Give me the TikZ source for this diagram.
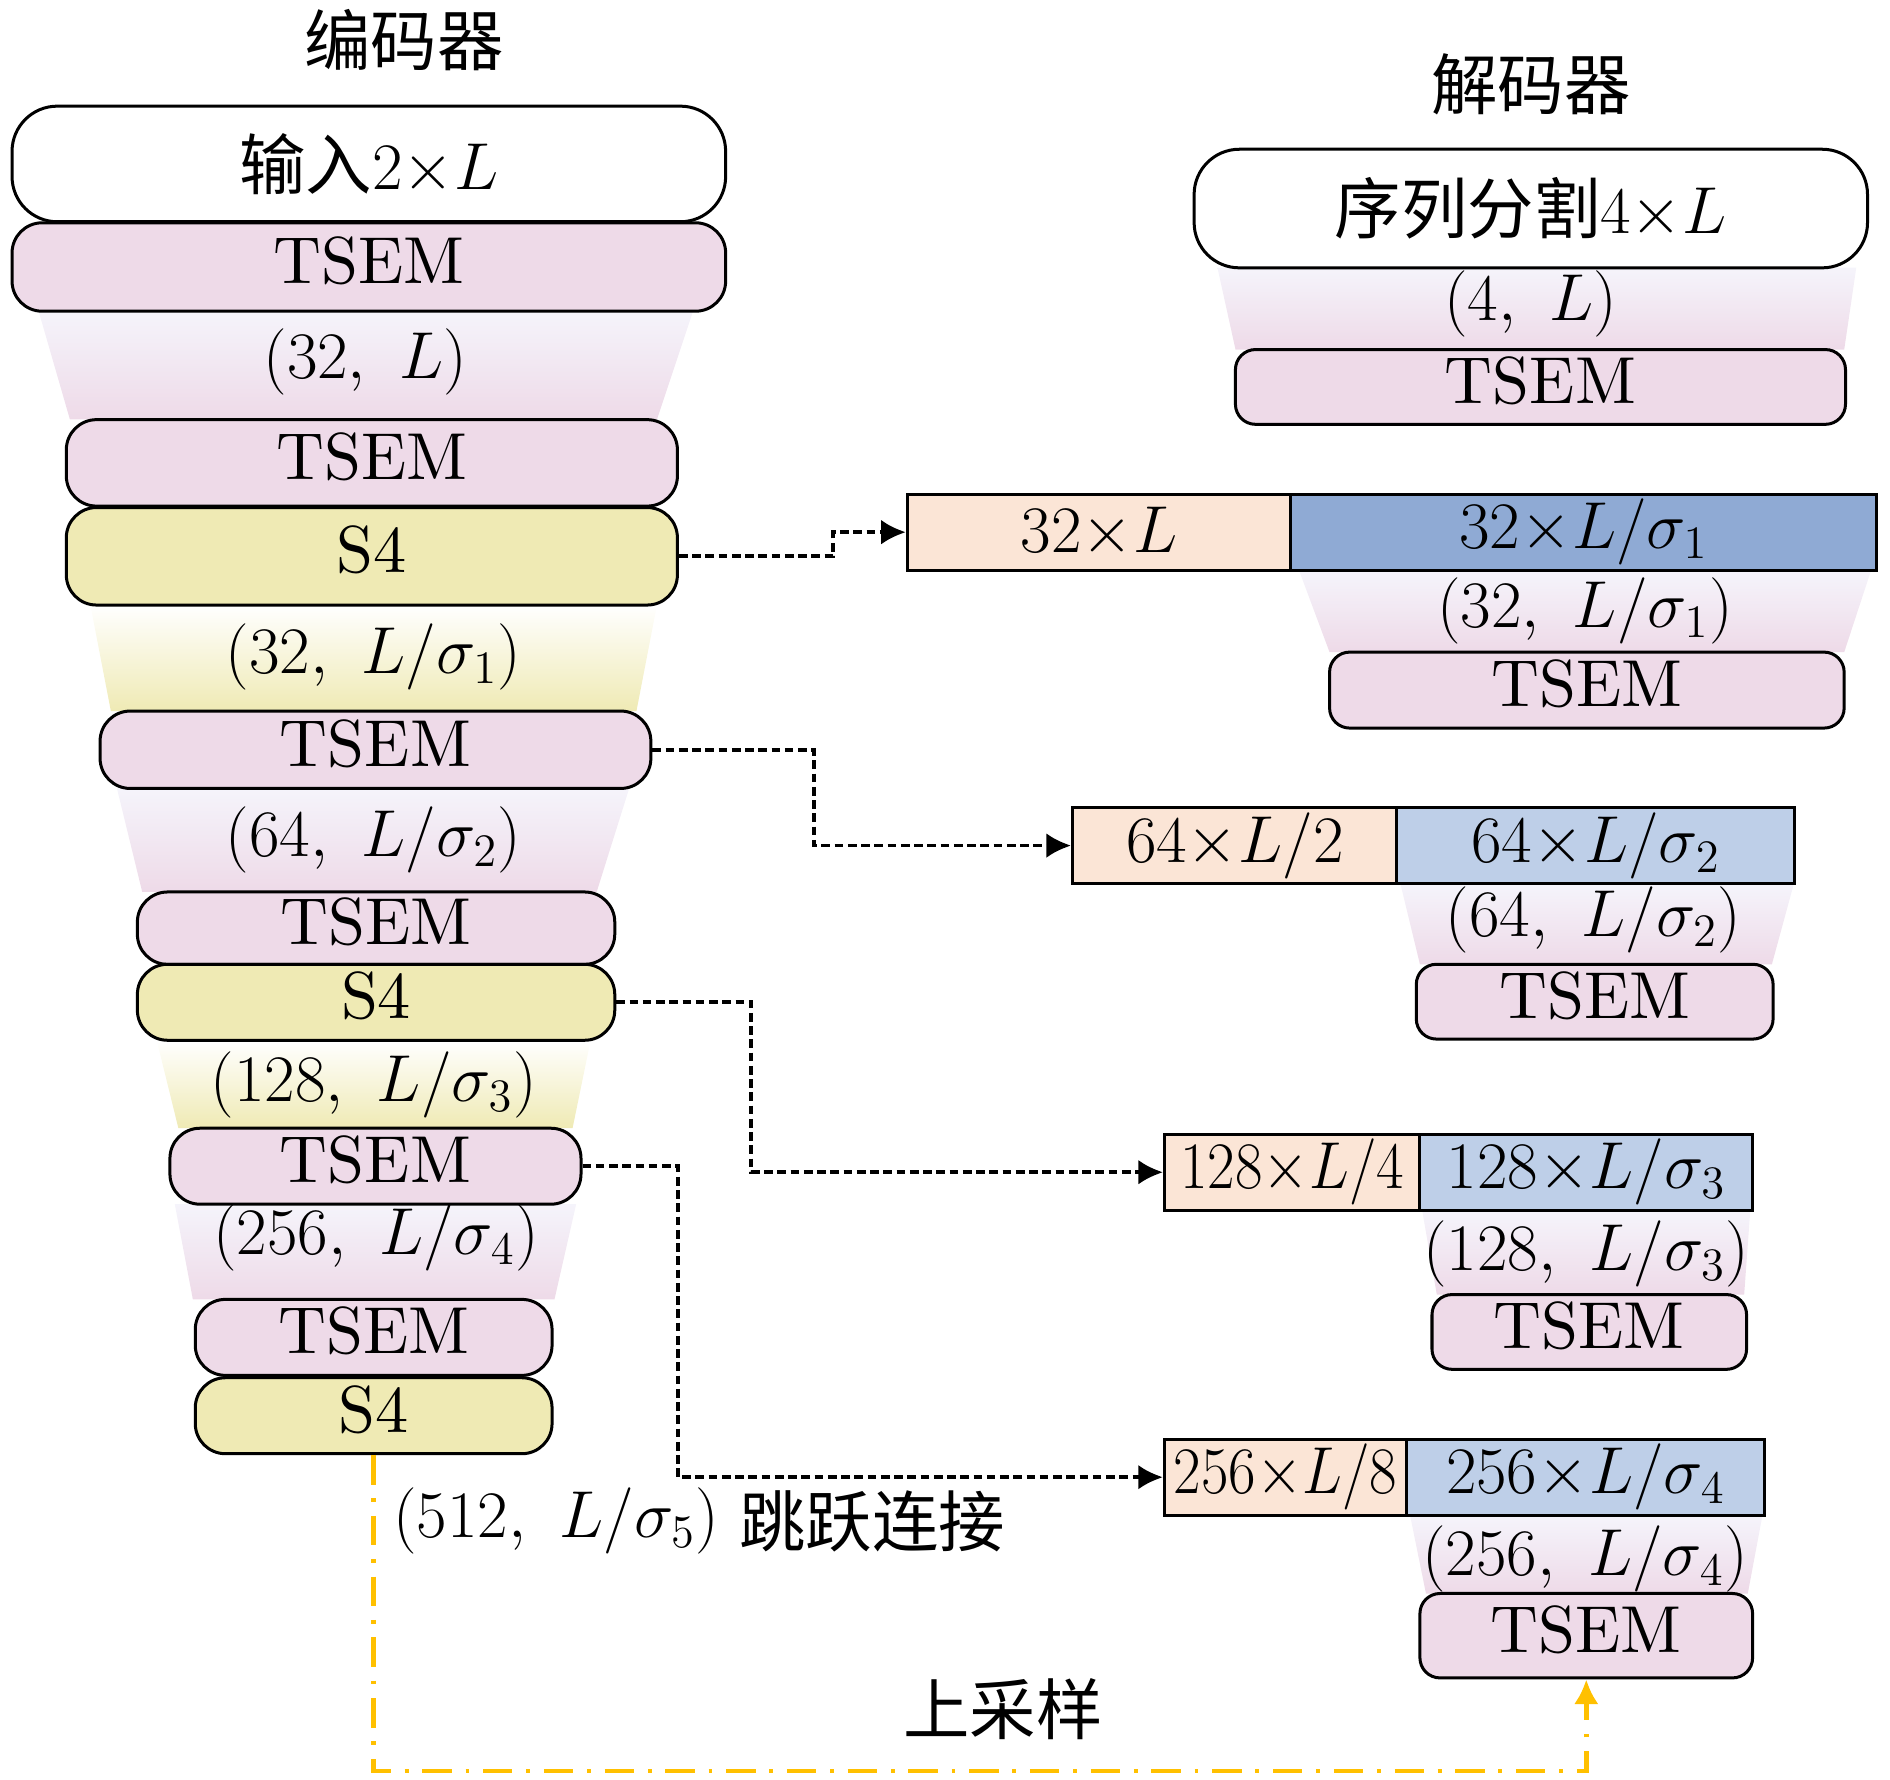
\documentclass[tikz,border=0pt]{standalone}
\usepackage{fix-cm}
\usepackage{fontspec}
\setmainfont{lmroman10-regular.otf}[ItalicFont=lmroman10-italic.otf, BoldFont=lmroman10-bold.otf]
\newfontfamily\cjk{Noto Sans CJK SC}
\usetikzlibrary{arrows.meta,backgrounds}

\definecolor{tsempink}{RGB}{238,218,232}
\definecolor{sfouryel}{RGB}{239,234,180}
\definecolor{catorange}{RGB}{251,229,214}
\definecolor{deepblue}{RGB}{143,170,212}
\definecolor{paleblue}{RGB}{190,207,232}
\definecolor{lavtop}{RGB}{245,244,251}
\definecolor{upyellow}{RGB}{255,192,0}

\begin{document}
\begin{tikzpicture}[x=0.012cm, y=-0.012cm,
  >={Latex[length=2.45mm, width=2.45mm]},
  font=\fontsize{18.8}{22}\selectfont,
  blk/.style={draw, line width=0.85pt, inner sep=0pt, align=center},
  wh/.style 2 args={minimum width=#1cm, minimum height=#2cm},
  lift/.style={text height=14.1pt, text depth=4.7pt},
  inbox/.style={blk, rounded corners=0.45cm, fill=white},
  tsem/.style={blk, lift, rounded corners=0.3cm, fill=tsempink},
  dtsem/.style={blk, lift, rounded corners=0.2cm, fill=tsempink},
  sfour/.style={blk, lift, rounded corners=0.3cm, fill=sfouryel},
  cat/.style={blk, fill=catorange, minimum height=0.756cm},
  enc/.style={blk, minimum height=0.756cm},
  sk/.style={->, line width=1.05pt, dash pattern=on 2.45pt off 1.3pt},
  up/.style={->, upyellow, line width=1.35pt, dash pattern=on 8.3pt off 3.9pt on 1.1pt off 3.9pt}]
  \useasboundingbox (0,0) rectangle (1568,1476);

  % encoder
  \node at (335,33) (encT) {\cjk 编码器};
  \node[inbox, wh={7.10}{1.15}] at (306,136) (in) {\cjk 输入$2{\times}L$};
  \node[tsem, wh={7.10}{0.88}] at (306,221.5) (tA) {TSEM};
  \node[tsem, wh={6.08}{0.86}] at (308.5,384) (tB) {TSEM};
  \node[sfour, wh={6.08}{0.97}] at (308.5,461.5) (sA) {S4};
  \node[tsem, wh={5.48}{0.77}] at (311.5,622) (tC) {TSEM};
  \node[tsem, wh={4.75}{0.72}] at (312,770) (tD) {TSEM};
  \node[sfour, wh={4.75}{0.756}] at (312,831.5) (sB) {S4};
  \node[tsem, wh={4.09}{0.756}] at (311.5,967.5) (tE) {TSEM};
  \node[tsem, wh={3.55}{0.756}] at (310,1109.5) (tF) {TSEM};
  \node[sfour, wh={3.55}{0.756}] at (310,1174.5) (sC) {S4};

  % decoder
  \node at (1270,70) (decT) {\cjk 解码器};
  \node[inbox, wh={6.70}{1.18}] at (1270,173) (seg) {\cjk 序列分割$4{\times}L$};
  \node[dtsem, wh={6.07}{0.744}] at (1278,321) (d0) {TSEM};
  \node[cat, minimum width=3.82cm] at (912,441.5) (c1) {$32{\times}L$};
  \node[enc, fill=deepblue, minimum width=5.83cm] at (1314,441.5) (b1) {$32{\times}L/\sigma_1$};
  \node[dtsem, wh={5.12}{0.756}] at (1316.5,572.5) (d1) {TSEM};
  \node[cat, minimum width=3.23cm] at (1024.5,701.5) (c2) {$64{\times}L/2$};
  \node[enc, fill=paleblue, minimum width=3.96cm] at (1324,701.5) (b2) {$64{\times}L/\sigma_2$};
  \node[dtsem, wh={3.55}{0.744}] at (1323,831) (d2) {TSEM};
  \node[cat, minimum width=2.54cm] at (1072,972.5) (c3) {\scalebox{0.9}[1]{$128{\times}L/4$}};
  \node[enc, fill=paleblue, minimum width=3.31cm] at (1316,972.5) (b3) {$128{\times}L/\sigma_3$};
  \node[dtsem, wh={3.13}{0.744}] at (1318.5,1105) (d3) {TSEM};
  \node[cat, minimum width=2.41cm] at (1066.5,1225.5) (c4) {\scalebox{0.9}[1]{$256{\times}L/8$}};
  \node[enc, fill=paleblue, minimum width=3.56cm] at (1315.5,1225.5) (b4) {$256{\times}L/\sigma_4$};
  \node[dtsem, wh={3.31}{0.84}] at (1316,1357) (d4) {TSEM};

  % tapered links
  \begin{scope}[on background layer]
    \foreach \yt/\yb/\xa/\xb/\xc/\xd in {258/348/32/575/545/58, 654/740/97/522/495/118,
        999/1078/145/478/460/160, 222/290/1010/1540/1530/1025, 474/541/1078/1552/1530/1103,
        734/800/1162/1488/1470/1178, 1005/1074/1180/1452/1447/1192, 1258/1322/1170/1462/1450/1183}
      \shade[top color=lavtop, bottom color=tsempink] (\xa,\yt) -- (\xb,\yt) -- (\xc,\yb) -- (\xd,\yb) -- cycle;
    \foreach \yt/\yb/\xa/\xb/\xc/\xd in {502/590/75/545/528/92, 863/936/130/490/475/148}
      \shade[top color=white, bottom color=sfouryel] (\xa,\yt) -- (\xb,\yt) -- (\xc,\yb) -- (\xd,\yb) -- cycle;
  \end{scope}

  \node at (303,300) (e1) {$(32,\ L)$};
  \node at (310,545) (e2) {$(32,\ L/\sigma_1)$};
  \node at (310,697) (e3) {$(64,\ L/\sigma_2)$};
  \node at (310,900) (e4) {$(128,\ L/\sigma_3)$};
  \node at (312,1027) (e5) {$(256,\ L/\sigma_4)$};
  \node at (1270,252) (f0) {$(4,\ L)$};
  \node at (1315,507) (f1) {$(32,\ L/\sigma_1)$};
  \node at (1322,763) (f2) {$(64,\ L/\sigma_2)$};
  \node at (1316,1040) (f3) {$(128,\ L/\sigma_3)$};
  \node at (1315,1293) (f4) {$(256,\ L/\sigma_4)$};

  \node[anchor=west] at (316,1262) (bott) {$(512,\ L/\sigma_5)$};
  \node[anchor=west, inner sep=2pt] at (bott.east) (skipT) {\cjk 跳跃连接};
  \node at (832,1418) (upT) {\cjk 上采样};

  % skip connections
  \draw[sk] (sA.east) -- ++(128,0) |- (c1.west);
  \draw[sk] (tC.east) -- ++(134,0) |- (c2.west);
  \draw[sk] (sB.east) -- ++(112,0) |- (c3.west);
  \draw[sk] (tE.east) -- ++(79,0) |- (c4.west);
  % upsampling
  \draw[up] (sC.south) -- ++(0,262) -| (d4.south);
\end{tikzpicture}
\end{document}
